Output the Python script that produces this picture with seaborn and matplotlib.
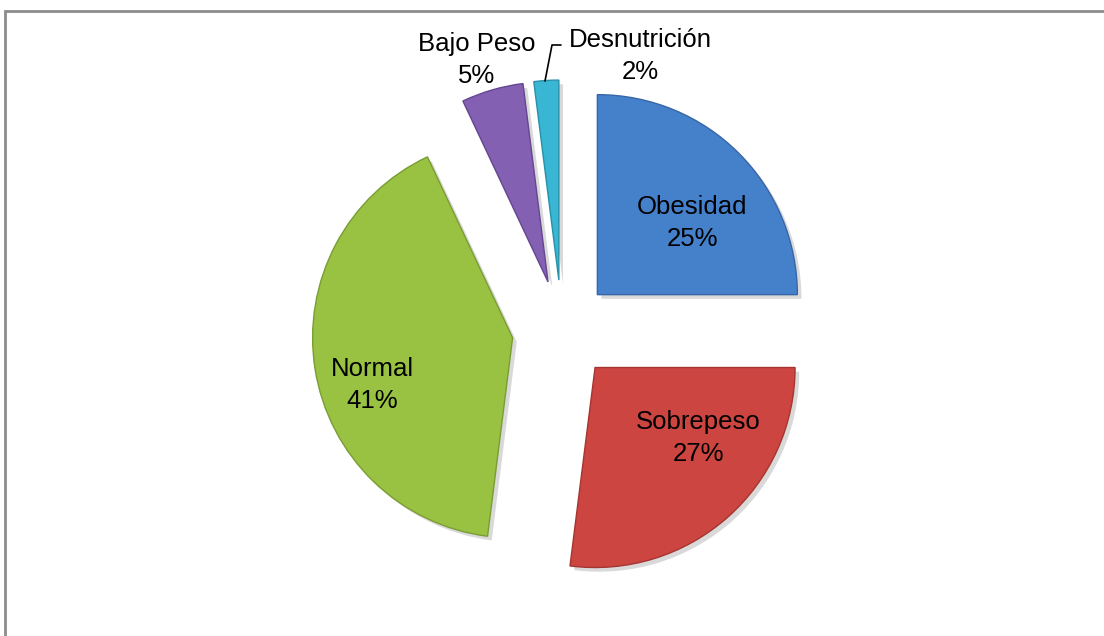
import matplotlib
matplotlib.use('Agg')
import matplotlib.pyplot as plt
import matplotlib.patheffects as pe
from matplotlib.patches import Rectangle
import seaborn as sns

# Data
categories = ['Obesidad', 'Sobrepeso', 'Normal', 'Bajo Peso', 'Desnutrición']
percent = [25, 27, 41, 5, 2]

colors = ['#4580CB', '#CD4540', '#99C243', '#8360B2', '#38B6D3']
edge_colors = ['#3766A6', '#A53531', '#7A9D33', '#654690', '#2890AA']

# label centres in pixel coordinates (x, y from top)
label_pos = [(692, 223), (698, 438), (372, 385), (477, 60), (640, 56)]

W, H = 1104, 636
RADIUS = 200
EXPLODE = 50  # matplotlib uses absolute units for explode

sns.set_theme(style='white')
plt.rcParams['font.family'] = ['Liberation Sans', 'DejaVu Sans']

fig = plt.figure(figsize=(W / 100, H / 100), dpi=100)
ax = fig.add_axes([0, 0, 1, 1])

wedges, _ = ax.pie(
    percent,
    colors=colors,
    startangle=90,
    counterclock=False,
    explode=[EXPLODE] * len(percent),
    radius=RADIUS,
    center=(562, H - 330),
    frame=True,
)
ax.set_xlim(0, W)
ax.set_ylim(0, H)
ax.axis('off')

for w, ec in zip(wedges, edge_colors):
    w.set_edgecolor(ec)
    w.set_linewidth(1.0)
    w.set_path_effects([
        pe.SimplePatchShadow(offset=(3, -3), shadow_rgbFace='#000000', alpha=0.15),
        pe.Normal(),
    ])

for name, val, (x, y) in zip(categories, percent, label_pos):
    ax.text(x, H - y, f'{name}\n{val}%', ha='center', va='center',
            fontsize=18.5, color='black', linespacing=1.38)

# leader line for Desnutrición
ax.plot([561, 552, 545], [H - 45, H - 45, H - 81], color='black', lw=1.2)

# chart area frame
fig.patches.append(Rectangle((5 / W, -0.1), 1.2, 1 - 11 / H + 0.1,
                             transform=fig.transFigure, fill=False,
                             edgecolor='#8C8C8C', lw=2))

fig.savefig('out.png', dpi=100)
